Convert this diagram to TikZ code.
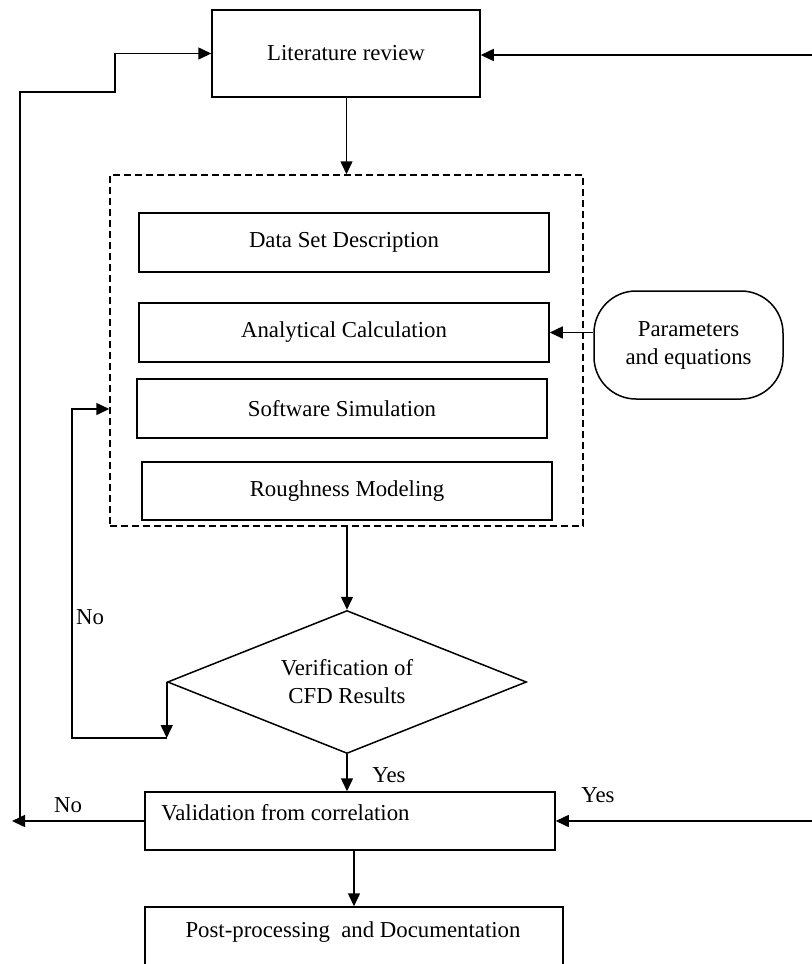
\documentclass[tikz,border=0pt]{standalone}
\usepackage{fontspec}
\setmainfont{Liberation Serif}
\usetikzlibrary{arrows.meta,shapes.geometric,calc}
\begin{document}
\begin{tikzpicture}[x=0.5pt,y=-0.5pt,
  every node/.style={font=\fontsize{11.4}{14}\selectfont},
  box/.style={draw,line width=0.75pt,inner sep=0pt},
  lbl/.style={inner sep=0pt},
  arr/.style={line width=0.75pt,-{Triangle[length=6.5pt,width=6pt]}}]
\useasboundingbox (0,0) rectangle (812,964);
\clip (0,0) rectangle (812,964);
% nodes
\node[box,minimum width=134pt,minimum height=43.5pt] (lit) at (346,53.5) {Literature review};
\node[draw,line width=0.75pt,dash pattern=on 3.5pt off 2pt,inner sep=0pt,minimum width=236.5pt,minimum height=175.5pt] (dbox) at (346.5,350.5) {};
\node[box,minimum width=205pt,minimum height=29.5pt] (data) at (344,242.5) {Data Set Description};
\node[box,minimum width=205pt,minimum height=29.5pt] (ana) at (344,332.5) {Analytical Calculation};
\node[box,minimum width=205pt,minimum height=29.5pt] (soft) at (342,408.5) {Software Simulation};
\node[box,minimum width=205pt,minimum height=29pt] (rough) at (347,491) {Roughness Modeling};
\node[box,rounded corners=21pt,minimum width=94.5pt,minimum height=54pt,align=center] (par) at (688.5,345) {Parameters\\and equations};
\node[box,diamond,aspect=2.5,minimum width=179.5pt,minimum height=71.5pt,align=center] (dia) at (347,682) {Verification of\\CFD Results};
\node[box,minimum width=205pt,minimum height=29pt] (val) at (350,821) {};
\node[lbl,anchor=west] (valtxt) at (161,813) {Validation from correlation};
\node[box,minimum width=209pt,minimum height=35pt] (post) at (354,942) {};
\node[lbl] (posttxt) at (353,932) {Post-processing\ \ and Documentation};
% labels
\node[lbl] (no1) at (90,617) {No};
\node[lbl] (no2) at (68,805) {No};
\node[lbl] (yes1) at (389,775) {Yes};
\node[lbl] (yes2) at (598,795) {Yes};
% coordinates
\coordinate (rtop) at (812,55);
\coordinate (rval) at (812,821);
\coordinate (lend) at (12,821);
\coordinate (lbot) at (20,821);
\coordinate (lstep) at (115,92);
\path (dia.west) ++(0,56) coordinate (c1);
\coordinate (c2) at (72,409);
% connectors
\draw[arr] (rtop) -- (rtop -| lit.east);
\draw[arr] (lit.south -| dbox.north) -- (dbox.north);
\draw[arr] (par.west |- ana.east) -- (ana.east);
\draw[arr] (dbox.south -| dia.north) -- (dia.north);
\draw[arr] (dia.west) -- (c1);
\draw[arr] (c1) -- (c1 -| c2) -- (c2) -- (c2 -| dbox.west);
\draw[arr] (dia.south) -- (val.north -| dia.south);
\draw[arr] (val.west) -- (lend);
\draw[arr] (lbot) |- (lstep) |- (lit.west);
\draw[arr] (rval) -- (val.east);
\draw[arr] (val.south -| post.north) -- (post.north);
\end{tikzpicture}
\end{document}
